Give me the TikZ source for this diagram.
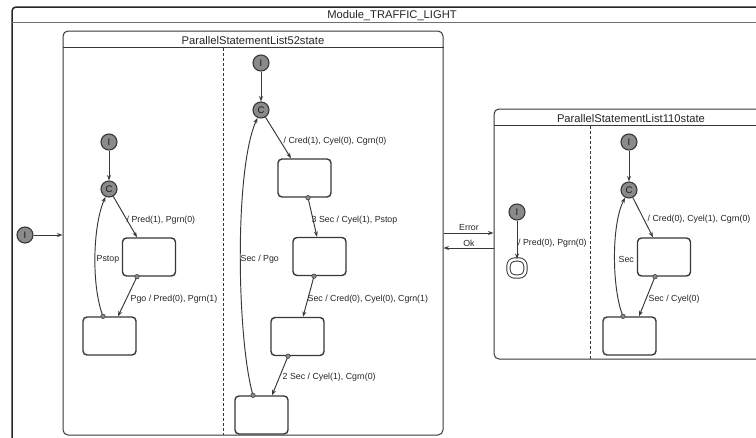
\documentclass[tikz,border=0pt]{standalone}
\usepackage{fontspec}
\setmainfont{Liberation Sans}
\usetikzlibrary{arrows.meta}
\definecolor{linec}{HTML}{383838}
\definecolor{pgray}{HTML}{8A8A8A}
\definecolor{sepc}{HTML}{707070}
\begin{document}
\begin{tikzpicture}[x=1pt,y=-1pt,
  titlef/.style={font=\fontsize{11.2}{12}\selectfont, text=black!85, inner sep=0pt},
  pseudo/.style={circle, draw=linec, fill=pgray, line width=1.1pt, minimum size=16pt, inner sep=0pt, font=\fontsize{9.5}{10}\selectfont, text=black!90},
  stbox/.style={draw=linec, rounded corners=4pt, line width=1.4pt, minimum width=53pt, minimum height=38pt, inner sep=0pt},
  region/.style={draw=linec, rounded corners=5pt, line width=1pt, inner sep=0pt},
  tr/.style={draw=linec, line width=0.95pt, -{Stealth[length=5.5pt,width=4pt]}},
  srcdot/.style={circle, draw=linec, fill=pgray, line width=0.5pt, inner sep=0pt, minimum size=4.5pt},
  lbl/.style={font=\fontsize{8.8}{9}\selectfont, anchor=west, inner sep=0.5pt, text=black!85},
  divider/.style={draw=linec, dashed, dash pattern=on 3pt off 2pt, line width=1pt}
]
\useasboundingbox (0,0) rectangle (756,437);
\clip (0,0) rectangle (756,437);
\fill[white] (0,0) rectangle (756,437);

% Module
\node[draw=black!85, line width=1.5pt, rounded corners=4pt, minimum width=760pt, minimum height=470pt, inner sep=0pt] (MOD) at (392,242) {};
\draw[sepc, line width=1pt] ([yshift=-16pt]MOD.north west) -- ([yshift=-16pt]MOD.north east);
\node[titlef] (MODT) at (392,15.5) {Module\_TRAFFIC\_LIGHT};

% Parallel 52
\node[region, minimum width=380pt, minimum height=404pt] (P52) at (253,233) {};
\draw[linec, line width=0.8pt] ([yshift=-17pt]P52.north west) -- ([yshift=-17pt]P52.north east);
\node[titlef] (P52T) at (253,40) {ParallelStatementList52state};
\coordinate (d52a) at (223,48);
\coordinate (d52b) at (223,435);
\draw[divider] (d52a) -- (d52b);

% Parallel 110
\node[region, minimum width=274pt, minimum height=250pt] (P110) at (631,234) {};
\draw[linec, line width=0.8pt] ([yshift=-17pt]P110.north west) -- ([yshift=-17pt]P110.north east);
\node[titlef] (P110T) at (631,118) {ParallelStatementList110state};
\coordinate (d110a) at (590,126);
\coordinate (d110b) at (590,359);
\draw[divider] (d110a) -- (d110b);

% module initial
\node[pseudo] (I0) at (25,235) {I};
\draw[tr] (I0) -- (P52.west |- I0);

% ---- P52 left region
\node[pseudo] (I1) at (109,142) {I};
\node[pseudo] (C1) at (109,189) {C};
\node[stbox] (A1) at (149,257) {};
\node[stbox] (B1) at (109.5,336) {};
\draw[tr] (I1) -- (C1);
\draw[tr] (C1) -- ([xshift=-12pt]A1.north);
\node[lbl] (L1) at (126,220) {/ Pred(1), Pgrn(0)};
\draw[tr] ([xshift=-12pt]A1.south) -- ([xshift=8.5pt]B1.north);
\node[srcdot] at ([xshift=-12pt]A1.south) {};
\node[lbl] (L2) at (130,299) {Pgo / Pred(0), Pgrn(1)};
\draw[tr] ([xshift=-6.5pt]B1.north) .. controls (91,285) and (93,225) .. (C1);
\node[srcdot] at ([xshift=-6.5pt]B1.north) {};
\node[lbl] (L3) at (96,259) {Pstop};

% ---- P52 right region
\node[pseudo] (I2) at (261,63) {I};
\node[pseudo] (C2) at (261,110) {C};
\node[stbox] (D2) at (304.5,178) {};
\node[stbox] (E2) at (319.5,256.5) {};
\node[stbox] (F2) at (297.5,336.5) {};
\node[stbox] (G2) at (261.5,415) {};
\draw[tr] (I2) -- (C2);
\draw[tr] (C2) -- ([xshift=-13.5pt]D2.north);
\node[lbl] (L4) at (283,141) {/ Cred(1), Cyel(0), Cgrn(0)};
\draw[tr] ([xshift=3.5pt]D2.south) -- ([xshift=-2.5pt]E2.north);
\node[srcdot] at ([xshift=3.5pt]D2.south) {};
\node[lbl] (L5) at (311,220) {3 Sec / Cyel(1), Pstop};
\draw[tr] ([xshift=-5.5pt]E2.south) -- ([xshift=5.5pt]F2.north);
\node[srcdot] at ([xshift=-5.5pt]E2.south) {};
\node[lbl] (L6) at (307,299) {Sec / Cred(0), Cyel(0), Cgrn(1)};
\draw[tr] ([xshift=-9.5pt]F2.south) -- ([xshift=10.5pt]G2.north);
\node[srcdot] at ([xshift=-9.5pt]F2.south) {};
\node[lbl] (L7) at (282,377) {2 Sec / Cyel(1), Cgrn(0)};
\draw[tr] ([xshift=-8.5pt]G2.north) .. controls (237,340) and (234,170) .. (C2);
\node[srcdot] at ([xshift=-8.5pt]G2.north) {};
\node[lbl] (L8) at (240,259) {Sec / Pgo};

% ---- Error / Ok
\coordinate (yErr) at (0,233);
\coordinate (yOk) at (0,248);
\draw[tr] (P52.east |- yErr) -- (P110.west |- yErr);
\draw[tr] (P110.west |- yOk) -- (P52.east |- yOk);
\node[lbl, anchor=center] (LE) at (469,228) {Error};
\node[lbl, anchor=center] (LO) at (469,243) {Ok};

% ---- P110 left region
\node[pseudo] (I3) at (517,212) {I};
\node[draw=linec, line width=1pt, double, double distance=2.4pt, rounded corners=6.5pt, minimum size=17pt, inner sep=0pt] (FIN) at (517,268) {};
\draw[tr] (I3) -- (FIN);
\node[lbl] (L9) at (517.5,243) {/ Pred(0), Pgrn(0)};

% ---- P110 right region
\node[pseudo] (I4) at (629,142) {I};
\node[pseudo] (C4) at (629,190) {C};
\node[stbox] (H4) at (664,257) {};
\node[stbox] (J4) at (629.5,336) {};
\draw[tr] (I4) -- (C4);
\draw[tr] (C4) -- ([xshift=-11pt]H4.north);
\node[lbl] (L10) at (647,219) {/ Cred(0), Cyel(1), Cgrn(0)};
\draw[tr] ([xshift=-9pt]H4.south) -- ([xshift=9.5pt]J4.north);
\node[srcdot] at ([xshift=-9pt]H4.south) {};
\node[lbl] (L11) at (648,299) {Sec / Cyel(0)};
\draw[tr] ([xshift=-6.5pt]J4.north) .. controls (612,290) and (611,225) .. (C4);
\node[srcdot] at ([xshift=-6.5pt]J4.north) {};
\node[lbl] (L12) at (618,259) {Sec};
\end{tikzpicture}
\end{document}
